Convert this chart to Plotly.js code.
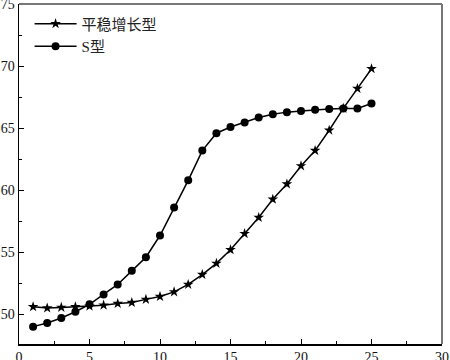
<!DOCTYPE html>
<html>
<head>
<meta charset="utf-8">
<script src="https://cdn.plot.ly/plotly-3.0.1.min.js"></script>
<style>html,body{margin:0;padding:0;background:#fff;}#chart{width:450px;height:360px;}</style>
</head>
<body>
<div id="chart"></div>
<script>
var xValues = [1,2,3,4,5,6,7,8,9,10,11,12,13,14,15,16,17,18,19,20,21,22,23,24,25];
var steadyName = "平稳增长型";
var steadyValues = [50.6,50.5,50.55,50.6,50.65,50.73,50.86,50.94,51.2,51.43,51.8,52.4,53.2,54.1,55.2,56.5,57.8,59.27,60.5,61.96,63.2,64.84,66.6,68.2,69.8];
var sName = "S型";
var sValues = [49.0,49.3,49.7,50.2,50.8,51.6,52.4,53.5,54.6,56.35,58.6,60.8,63.2,64.6,65.1,65.46,65.86,66.13,66.3,66.4,66.5,66.56,66.6,66.6,67.0];
var xTickVals = [0,5,10,15,20,25,30];
var yTickVals = [50,55,60,65,70,75];

var fontFam = "Liberation Serif, DejaVu Serif, Noto Sans CJK SC";

var traces = [
  {x: xValues, y: steadyValues, name: steadyName, type: 'scatter', mode: 'lines+markers',
   line: {color: '#000', width: 1.5}, marker: {symbol: 'star', size: 8, color: '#000'}},
  {x: xValues, y: sValues, name: sName, type: 'scatter', mode: 'lines+markers',
   line: {color: '#000', width: 1.5}, marker: {symbol: 'circle', size: 8, color: '#000'}}
];

var layout = {
  width: 450, height: 360,
  margin: {l: 19, r: 8, t: 4, b: 16},
  paper_bgcolor: '#fff', plot_bgcolor: '#fff',
  font: {family: fontFam, size: 14, color: '#111'},
  showlegend: true,
  legend: {x: 0.025, y: 0.99, xanchor: 'left', yanchor: 'top', bgcolor: 'rgba(0,0,0,0)',
           itemwidth: 42, font: {family: fontFam, size: 15, color: '#222'}, tracegroupgap: 0},
  xaxis: {range: [0, 30], tickvals: xTickVals, ticks: 'inside', ticklen: 5, tickcolor: '#000',
          showline: true, linecolor: '#000', linewidth: 1.5, showgrid: false, zeroline: false,
          minor: {dtick: 2.5, tick0: 0, ticks: 'inside', ticklen: 3, tickcolor: '#000', showgrid: false},
          tickfont: {family: fontFam, size: 14}, ticklabelstandoff: 0, ticklabeloverflow: 'allow'},
  yaxis: {range: [47.6, 75.02], tickvals: yTickVals, ticks: 'inside', ticklen: 5, tickcolor: '#000',
          showline: true, linecolor: '#000', linewidth: 1.5, showgrid: false, zeroline: false,
          minor: {dtick: 2.5, tick0: 0, ticks: 'inside', ticklen: 3, tickcolor: '#000', showgrid: false},
          tickfont: {family: fontFam, size: 14}, ticklabelstandoff: 0, ticklabeloverflow: 'allow'},
  shapes: [
    {type: 'line', xref: 'paper', yref: 'paper', x0: 0, x1: 1, y0: 1, y1: 1, line: {color: '#777', width: 2}},
    {type: 'line', xref: 'paper', yref: 'paper', x0: 1, x1: 1, y0: 0, y1: 1, line: {color: '#777', width: 2}}
  ]
};

Plotly.newPlot('chart', traces, layout, {displayModeBar: false, staticPlot: true});
</script>
</body>
</html>
